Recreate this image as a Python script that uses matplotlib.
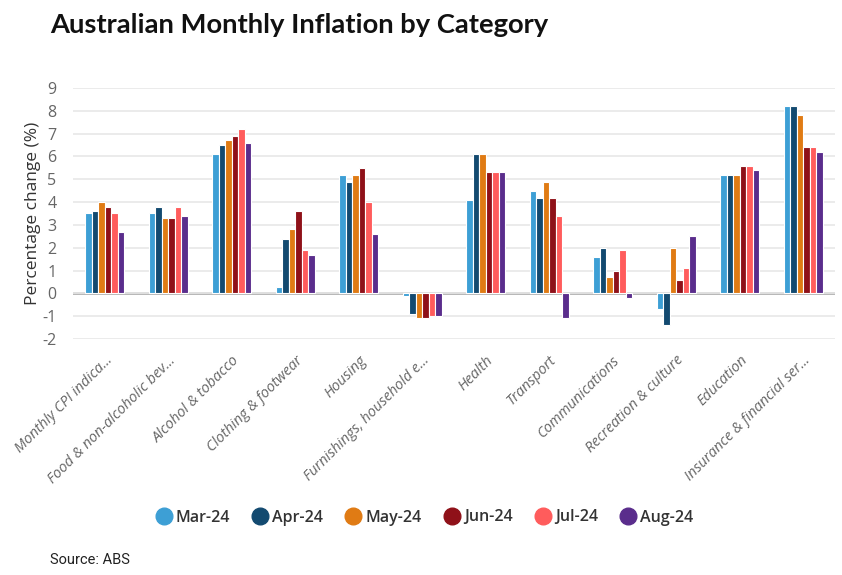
import matplotlib
matplotlib.use("Agg")
import matplotlib.pyplot as plt
import numpy as np
from matplotlib.lines import Line2D

categories = ["Monthly CPI indica...", "Food & non-alcoholic bev...", "Alcohol & tobacco",
              "Clothing & footwear", "Housing", "Furnishings, household e...", "Health",
              "Transport", "Communications", "Recreation & culture", "Education",
              "Insurance & financial ser..."]
months = ["Mar-24", "Apr-24", "May-24", "Jun-24", "Jul-24", "Aug-24"]
mar24 = [3.5, 3.5, 6.1, 0.3, 5.2, -0.1, 4.1, 4.5, 1.6, -0.7, 5.2, 8.2]
apr24 = [3.6, 3.8, 6.5, 2.4, 4.9, -0.9, 6.1, 4.2, 2.0, -1.4, 5.2, 8.2]
may24 = [4.0, 3.3, 6.7, 2.8, 5.2, -1.1, 6.1, 4.9, 0.7, 2.0, 5.2, 7.8]
jun24 = [3.8, 3.3, 6.9, 3.6, 5.5, -1.1, 5.3, 4.2, 1.0, 0.6, 5.6, 6.4]
jul24 = [3.5, 3.8, 7.2, 1.9, 4.0, -1.0, 5.3, 3.4, 1.9, 1.1, 5.6, 6.4]
aug24 = [2.7, 3.4, 6.6, 1.7, 2.6, -1.0, 5.3, -1.1, -0.2, 2.5, 5.4, 6.2]
series = [mar24, apr24, may24, jun24, jul24, aug24]
colors = ["#3d9fd5", "#134a70", "#e07b14", "#8f1119", "#ff5c5c", "#5a2d8c"]
yticks = list(range(-2, 10))

plt.rcParams['font.family'] = ['Open Sans', 'DejaVu Sans']

fig = plt.figure(figsize=(8.42, 5.75), dpi=100)
ax = fig.add_axes([0.0867, 0.4104, 0.905, 0.4366])

x = np.arange(len(categories))
n = len(series)
slot = 0.62
bw = slot / n
for i, (vals, c) in enumerate(zip(series, colors)):
    ax.bar(x - slot / 2 + bw * (i + 0.5), vals, width=bw, color=c,
           edgecolor="white", linewidth=0.8, zorder=3, label=months[i])

ax.set_xlim(-0.5, len(categories) - 0.5)
ax.set_ylim(-2, 9)
ax.set_yticks(yticks)
ax.set_yticklabels([str(t) for t in yticks], color="#666666", fontsize=11.5)
ax.grid(axis="y", color="#e8e8e8", linewidth=1.2, zorder=0)
ax.axhline(0, color="#b0b0b0", linewidth=2, zorder=1)
for s in ax.spines.values():
    s.set_visible(False)
ax.tick_params(axis="both", length=0)
ax.tick_params(axis="y", pad=12)
ax.set_xticks(x)
ax.set_xticklabels(categories, rotation=45, ha="right", va="top",
                   rotation_mode="anchor", style="italic", color="#666666", fontsize=10.5)
ax.tick_params(axis="x", pad=10)
ax.set_ylabel("Percentage change (%)", fontsize=12.5, color="#333333", labelpad=1)

fig.text(0.059, 0.957, "Australian Monthly Inflation by Category", fontsize=19.7,
         fontweight="bold", ha="left", va="center", color="#111111", family=["Lato", "DejaVu Sans"])

handles = [Line2D([0], [0], marker="o", linestyle="", markersize=12,
                  markerfacecolor=c, markeredgecolor=c) for c in colors]
fig.legend(handles, months, loc="center", bbox_to_anchor=(0.505, 0.1), ncol=6,
           frameon=False, handlelength=0.8, handletextpad=0.35, columnspacing=1.5,
           labelcolor="#333333", prop={"weight": "semibold", "size": 11.5})

fig.text(0.059, 0.026, "Source: ABS", fontsize=10.5, ha="left", va="center", color="#222222",
         family=["Roboto", "DejaVu Sans"])

fig.savefig("out.png", dpi=100)
